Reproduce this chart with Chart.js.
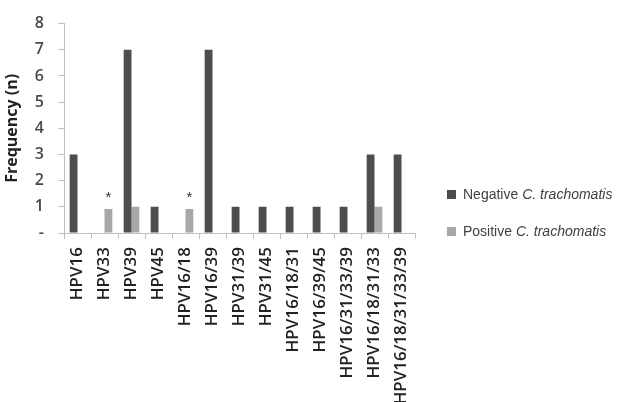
<!DOCTYPE html>
<html>
<head>
<meta charset="utf-8">
<script src="https://cdn.jsdelivr.net/npm/chart.js@4/dist/chart.umd.min.js"></script>
<style>
  html, body { margin: 0; padding: 0; background: #fff; }
  #wrap { position: relative; width: 623px; height: 402px; overflow: hidden; }
  #c { position: absolute; left: 0; top: 0; }
  #legend { position: absolute; left: 447px; top: 185px; font-family: "Liberation Sans", Arial, sans-serif; font-size: 14px; color: #404040; }
  .item { display: flex; align-items: center; height: 18px; margin-bottom: 19px; white-space: nowrap; }
  .sw { width: 9px; height: 9px; margin-right: 7px; flex: none; }
</style>
</head>
<body>
<div id="wrap">
  <canvas id="c" width="623" height="402"></canvas>
  <div id="legend"></div>
</div>
<script>
const categories = ['HPV16','HPV33','HPV39','HPV45','HPV16/18','HPV16/39','HPV31/39','HPV31/45','HPV16/18/31','HPV16/39/45','HPV16/31/33/39','HPV16/18/31/33','HPV16/18/31/33/39'];
const negativeCT = [3, 0, 7, 1, 0, 7, 1, 1, 1, 1, 1, 3, 3];
const positiveCT = [0, 0.92, 1, 0, 0.92, 0, 0, 0, 0, 0, 0, 1, 0];
const starred = ['HPV33', 'HPV16/18'];
const yTicks = [0, 1, 2, 3, 4, 5, 6, 7, 8];
const seriesNames = ['Negative', 'Positive'];
const speciesName = 'C. trachomatis';
const colors = ['#4d4d4d', '#a8a8a8'];

const starPlugin = {
  id: 'stars',
  afterDatasetsDraw(chart) {
    const ctx = chart.ctx;
    const meta = chart.getDatasetMeta(1);
    ctx.save();
    ctx.fillStyle = '#333';
    ctx.font = '15px "Liberation Sans", Arial, sans-serif';
    ctx.textAlign = 'center';
    ctx.textBaseline = 'alphabetic';
    starred.forEach(name => {
      const i = categories.indexOf(name);
      const el = meta.data[i];
      ctx.fillText('*', el.x, el.y - 7);
    });
    ctx.restore();
  }
};

const chart = new Chart(document.getElementById('c'), {
  type: 'bar',
  data: {
    labels: categories,
    datasets: [
      { label: seriesNames[0] + ' ' + speciesName, data: negativeCT, backgroundColor: colors[0] },
      { label: seriesNames[1] + ' ' + speciesName, data: positiveCT, backgroundColor: colors[1] }
    ]
  },
  options: {
    responsive: false,
    animation: false,
    devicePixelRatio: 1,
    layout: { padding: { top: 22, right: 208, left: 0, bottom: 0 } },
    datasets: { bar: { categoryPercentage: 0.58, barPercentage: 1.0 } },
    plugins: { legend: { display: false }, tooltip: { enabled: false } },
    scales: {
      x: {
        grid: { display: true, drawOnChartArea: false, offset: true, color: '#c0c0c0', tickLength: 6, tickColor: '#c0c0c0' },
        border: { color: '#c0c0c0' },
        ticks: { minRotation: 90, maxRotation: 90, autoSkip: false, padding: 8, color: '#222', font: { family: '"Open Sans"', size: 17, weight: '600' } },
        afterFit(scale) { scale.height = 169; }
      },
      y: {
        min: 0, max: 8,
        afterBuildTicks(scale) { scale.ticks = yTicks.map(v => ({ value: v })); },
        grid: { display: true, drawOnChartArea: false, color: '#c0c0c0', tickLength: 6, tickColor: '#c0c0c0' },
        border: { color: '#c0c0c0' },
        ticks: { padding: 14, color: '#4a4a4a', font: { family: '"Open Sans"', size: 16, weight: '600' }, callback: v => v === 0 ? '-' : v },
        title: { display: true, text: 'Frequency (n)', color: '#222', font: { family: '"Open Sans"', size: 16, weight: 'bold' }, padding: { top: 3, bottom: 0 } },
        afterFit(scale) { scale.width = 64; }
      }
    }
  },
  plugins: [starPlugin]
});

const legend = document.getElementById('legend');
chart.data.datasets.forEach((ds, i) => {
  const item = document.createElement('div');
  item.className = 'item';
  const sw = document.createElement('span');
  sw.className = 'sw';
  sw.style.background = ds.backgroundColor;
  const txt = document.createElement('span');
  txt.appendChild(document.createTextNode(seriesNames[i] + ' '));
  const em = document.createElement('i');
  em.textContent = speciesName;
  txt.appendChild(em);
  item.appendChild(sw);
  item.appendChild(txt);
  legend.appendChild(item);
});
</script>
</body>
</html>
